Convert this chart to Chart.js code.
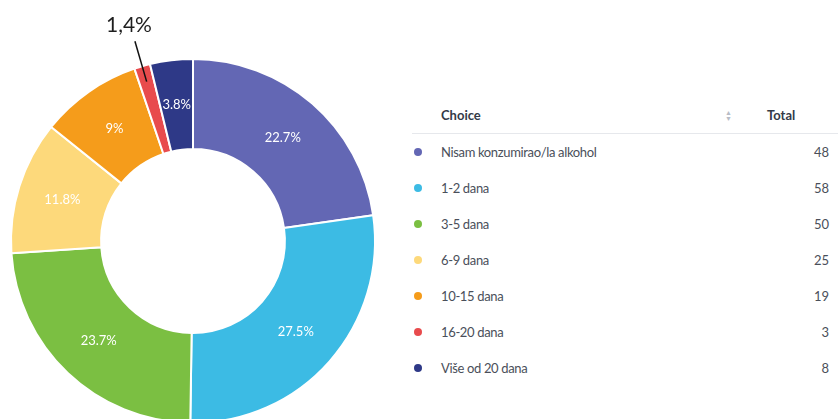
<!DOCTYPE html>
<html>
<head>
<meta charset="utf-8">
<script src="https://cdn.jsdelivr.net/npm/chart.js@4"></script>
<style>
  html, body { margin: 0; padding: 0; width: 838px; height: 419px; overflow: hidden; background: #fff; font-family: Lato, sans-serif; }
  #chartBox { position: absolute; left: 0; top: 0; width: 386px; height: 482px; }
  #table { position: absolute; left: 412px; top: 97px; width: 426px; color: #4a4f5a; font-size: 13px; }
  .head { position: relative; height: 36px; border-bottom: 1px solid #e6e8ec; font-weight: 700; color: #333a48; }
  .head span, .row span { position: absolute; top: 50%; transform: translateY(-50%); white-space: nowrap; }
  .row { position: relative; height: 36px; }
  .row .txt { letter-spacing: -0.35px; }
  .dot { width: 8px; height: 8px; border-radius: 50%; left: 2px; }
  .sort { left: 313px; font-size: 7px; line-height: 6px; color: #b8bcc6; text-align: center; }
</style>
</head>
<body>
<div id="chartBox"><canvas id="donut"></canvas></div>
<div id="table"></div>
<script>
document.addEventListener('DOMContentLoaded', () => {
    // --- Data ---
    const choices = ['Nisam konzumirao/la alkohol', '1-2 dana', '3-5 dana', '6-9 dana', '10-15 dana', '16-20 dana', 'Više od 20 dana'];
    const totals = [48, 58, 50, 25, 19, 3, 8];
    const percentLabels = ['22.7%', '27.5%', '23.7%', '11.8%', '9%', '', '3.8%'];
    const calloutLabel = '1,4%';
    const calloutIndex = 5;
    const colors = ['#6367b4', '#3cbbe4', '#7bbf42', '#fdd97b', '#f59c1b', '#e84b4d', '#2e3987'];

    // --- Table on the right ---
    const table = document.getElementById('table');
    let html = '<div class="head"><span style="left:29px">Choice</span>' +
               '<span class="sort">&#9650;<br>&#9660;</span>' +
               '<span style="left:355px">Total</span></div>';
    choices.forEach((c, i) => {
        html += `<div class="row"><span class="dot" style="background:${colors[i]}"></span>` +
                `<span class="txt" style="left:29px">${c}</span>` +
                `<span style="right:9px">${totals[i]}</span></div>`;
    });
    table.innerHTML = html;

    // --- Labels inside slices + manual callout ---
    const sliceLabels = {
        id: 'sliceLabels',
        afterDatasetsDraw(chart) {
            const c = chart.ctx;
            const arcs = chart.getDatasetMeta(0).data;
            c.save();
            c.fillStyle = '#ffffff';
            c.font = '13px Lato';
            c.textAlign = 'center';
            c.textBaseline = 'middle';
            arcs.forEach((arc, i) => {
                if (!percentLabels[i]) return;
                const p = arc.tooltipPosition();
                c.fillText(percentLabels[i], p.x, p.y);
            });

            // callout for the small slice
            const a = arcs[calloutIndex];
            const mid = (a.startAngle + a.endAngle) / 2;
            const r1 = a.outerRadius + 26;
            const r2 = a.outerRadius - 16;
            const x1 = a.x + r1 * Math.cos(mid), y1 = a.y + r1 * Math.sin(mid);
            const x2 = a.x + r2 * Math.cos(mid), y2 = a.y + r2 * Math.sin(mid);
            c.strokeStyle = '#111';
            c.lineWidth = 1.5;
            c.beginPath();
            c.moveTo(x1, y1);
            c.lineTo(x2, y2);
            c.stroke();
            c.fillStyle = '#1e1e1e';
            c.font = '400 21px Lato';
            c.textBaseline = 'alphabetic';
            c.fillText(calloutLabel, x1 - 6, y1 - 9);
            c.restore();
        }
    };

    const ctx = document.getElementById('donut').getContext('2d');
    new Chart(ctx, {
        type: 'doughnut',
        data: {
            labels: choices,
            datasets: [{
                data: totals,
                backgroundColor: colors,
                borderColor: '#ffffff',
                borderWidth: 2
            }]
        },
        options: {
            responsive: true,
            maintainAspectRatio: false,
            cutout: '50.5%',
            layout: { padding: { left: 10, right: 10, top: 58, bottom: 58 } },
            plugins: {
                legend: { display: false },
                tooltip: { enabled: false }
            },
            animation: false
        },
        plugins: [sliceLabels]
    });
});
</script>
</body>
</html>
